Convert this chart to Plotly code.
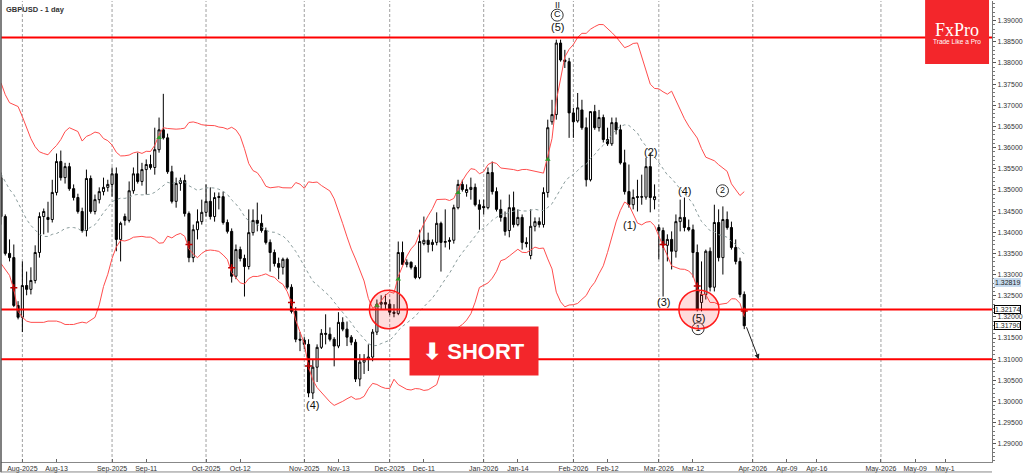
import numpy as np
import pandas as pd
import plotly.graph_objects as go

# ---------------- data ----------------
opens = [1.3529,1.3437,1.3350,1.3340,1.3227,1.3199,1.3274,1.3265,1.3286,1.3352,
         1.3437,1.3435,1.3430,1.3494,1.3567,1.3529,1.3555,1.3503,1.3482,1.3449,
         1.3404,1.3527,1.3449,1.3477,1.3496,1.3506,1.3513,1.3538,1.3383,1.3437,
         1.3428,1.3498,1.3538,1.3520,1.3548,1.3560,1.3553,1.3595,1.3642,1.3623,
         1.3543,1.3473,1.3515,1.3522,1.3444,1.3340,1.3406,1.3425,1.3447,1.3473,
         1.3437,1.3482,1.3484,1.3423,1.3402,1.3296,1.3359,1.3338,1.3319,1.3399,
         1.3428,1.3421,1.3404,1.3376,1.3352,1.3326,1.3317,1.3336,1.3270,1.3213,
         1.3147,1.3145,1.3135,1.3020,1.3081,1.3128,1.3161,1.3159,1.3147,1.3131,
         1.3187,1.3171,1.3152,1.3140,1.3053,1.3093,1.3100,1.3105,1.3164,1.3230,
         1.3234,1.3230,1.3211,1.3208,1.3352,1.3324,1.3329,1.3317,1.3293,1.3373,
         1.3381,1.3371,1.3376,1.3421,1.3376,1.3378,1.3381,1.3458,1.3513,1.3494,
         1.3501,1.3506,1.3465,1.3461,1.3458,1.3541,1.3496,1.3454,1.3435,1.3404,
         1.3458,1.3418,1.3435,1.3376,1.3345,1.3414,1.3425,1.3418,1.3494,1.3661,
         1.3678,1.3847,1.3807,1.3803,1.3682,1.3663,1.3689,1.3647,1.3524,1.3685,
         1.3647,1.3671,1.3619,1.3609,1.3659,1.3642,1.3564,1.3496,1.3465,1.3482,
         1.3484,1.3483,1.3555,1.3477,1.3411,1.3404,1.3369,1.3383,1.3355,1.3425,
         1.3435,1.3411,1.3406,1.3352,1.3234,1.3253,1.3355,1.3270,1.3423,1.3340,
         1.3430,1.3411,1.3364,1.3331,1.3253]
highs = [1.3541,1.3442,1.3383,1.3371,1.3237,1.3331,1.3307,1.3317,1.3369,1.3447,
         1.3456,1.3472,1.3524,1.3586,1.3593,1.3564,1.3564,1.3513,1.3491,1.3458,
         1.3548,1.3534,1.3489,1.3506,1.3529,1.3524,1.3553,1.3553,1.3425,1.3444,
         1.3520,1.3553,1.3588,1.3564,1.3572,1.3583,1.3647,1.3671,1.3727,1.3633,
         1.3557,1.3529,1.3529,1.3536,1.3449,1.3418,1.3454,1.3477,1.3513,1.3506,
         1.3494,1.3494,1.3496,1.3430,1.3409,1.3371,1.3366,1.3347,1.3454,1.3454,
         1.3470,1.3442,1.3411,1.3383,1.3359,1.3340,1.3340,1.3340,1.3277,1.3223,
         1.3164,1.3152,1.3147,1.3100,1.3135,1.3171,1.3206,1.3175,1.3152,1.3211,
         1.3199,1.3189,1.3157,1.3147,1.3112,1.3112,1.3135,1.3171,1.3241,1.3251,
         1.3253,1.3241,1.3230,1.3378,1.3378,1.3336,1.3331,1.3322,1.3406,1.3437,
         1.3399,1.3383,1.3447,1.3425,1.3454,1.3388,1.3465,1.3524,1.3524,1.3513,
         1.3529,1.3515,1.3477,1.3477,1.3553,1.3567,1.3506,1.3477,1.3449,1.3489,
         1.3496,1.3454,1.3442,1.3388,1.3454,1.3435,1.3435,1.3506,1.3666,1.3713,
         1.3855,1.3855,1.3831,1.3812,1.3694,1.3729,1.3713,1.3671,1.3685,1.3701,
         1.3689,1.3678,1.3647,1.3671,1.3671,1.3654,1.3595,1.3560,1.3501,1.3524,
         1.3536,1.3576,1.3588,1.3513,1.3418,1.3411,1.3395,1.3402,1.3442,1.3477,
         1.3482,1.3430,1.3418,1.3371,1.3331,1.3359,1.3364,1.3465,1.3454,1.3461,
         1.3449,1.3425,1.3383,1.3340,1.3260]
lows = [1.3418,1.3345,1.3331,1.3223,1.3194,1.3164,1.3251,1.3253,1.3279,1.3340,
        1.3395,1.3399,1.3423,1.3487,1.3522,1.3515,1.3498,1.3475,1.3444,1.3399,
        1.3390,1.3444,1.3442,1.3468,1.3487,1.3496,1.3484,1.3355,1.3331,1.3416,
        1.3423,1.3491,1.3515,1.3510,1.3489,1.3548,1.3536,1.3588,1.3619,1.3538,
        1.3468,1.3458,1.3498,1.3437,1.3329,1.3329,1.3383,1.3418,1.3437,1.3430,
        1.3425,1.3454,1.3418,1.3397,1.3281,1.3289,1.3331,1.3248,1.3312,1.3392,
        1.3402,1.3399,1.3371,1.3307,1.3319,1.3289,1.3300,1.3265,1.3208,1.3140,
        1.3119,1.3124,1.3010,1.3006,1.3046,1.3124,1.3135,1.3142,1.3083,1.3126,
        1.3166,1.3131,1.3133,1.3046,1.3036,1.3065,1.3072,1.3095,1.3157,1.3218,
        1.3218,1.3204,1.3199,1.3204,1.3322,1.3317,1.3312,1.3289,1.3289,1.3369,
        1.3352,1.3355,1.3369,1.3307,1.3364,1.3359,1.3373,1.3454,1.3496,1.3484,
        1.3477,1.3461,1.3406,1.3442,1.3454,1.3489,1.3449,1.3425,1.3392,1.3388,
        1.3411,1.3414,1.3359,1.3364,1.3336,1.3402,1.3411,1.3411,1.3482,1.3654,
        1.3666,1.3803,1.3788,1.3623,1.3623,1.3659,1.3642,1.3508,1.3520,1.3642,
        1.3638,1.3612,1.3604,1.3604,1.3631,1.3560,1.3489,1.3458,1.3454,1.3449,
        1.3465,1.3477,1.3447,1.3454,1.3336,1.3248,1.3331,1.3312,1.3340,1.3402,
        1.3402,1.3402,1.3293,1.3213,1.3213,1.3241,1.3260,1.3260,1.3331,1.3300,
        1.3406,1.3359,1.3324,1.3246,1.3171]
closes = [1.3437,1.3350,1.3340,1.3227,1.3199,1.3274,1.3265,1.3286,1.3352,1.3437,
          1.3449,1.3430,1.3494,1.3567,1.3529,1.3555,1.3503,1.3482,1.3449,1.3404,
          1.3527,1.3449,1.3477,1.3496,1.3506,1.3513,1.3538,1.3383,1.3421,1.3428,
          1.3498,1.3538,1.3520,1.3548,1.3560,1.3553,1.3595,1.3642,1.3623,1.3543,
          1.3473,1.3515,1.3522,1.3444,1.3340,1.3406,1.3425,1.3447,1.3473,1.3437,
          1.3482,1.3484,1.3423,1.3402,1.3296,1.3359,1.3338,1.3319,1.3399,1.3428,
          1.3421,1.3404,1.3376,1.3352,1.3326,1.3317,1.3336,1.3270,1.3213,1.3147,
          1.3145,1.3135,1.3020,1.3081,1.3128,1.3161,1.3159,1.3147,1.3131,1.3187,
          1.3171,1.3152,1.3140,1.3053,1.3093,1.3100,1.3105,1.3164,1.3230,1.3234,
          1.3230,1.3211,1.3208,1.3352,1.3324,1.3329,1.3317,1.3293,1.3378,1.3381,
          1.3371,1.3376,1.3421,1.3376,1.3378,1.3381,1.3458,1.3513,1.3501,1.3501,
          1.3506,1.3465,1.3454,1.3458,1.3541,1.3496,1.3454,1.3435,1.3402,1.3458,
          1.3418,1.3435,1.3376,1.3373,1.3414,1.3425,1.3418,1.3494,1.3647,1.3678,
          1.3847,1.3807,1.3803,1.3682,1.3661,1.3694,1.3647,1.3524,1.3685,1.3647,
          1.3671,1.3619,1.3609,1.3659,1.3642,1.3564,1.3496,1.3465,1.3482,1.3484,
          1.3483,1.3555,1.3482,1.3484,1.3404,1.3369,1.3383,1.3355,1.3425,1.3435,
          1.3411,1.3406,1.3352,1.3218,1.3253,1.3355,1.3270,1.3423,1.3340,1.3430,
          1.3411,1.3364,1.3331,1.3253,1.3179]

# Bollinger values visible at the left edge (before 20 bars of history exist)
bb_upper_start = [1.3753,1.3725,1.3706,1.3701,1.3697,1.3673,1.3647,1.3621,1.3602,1.3590,
                  1.3586,1.3583,1.3595,1.3605,1.3619,1.3638,1.3647,1.3642,1.3638]
bb_mid_start = [1.3538,1.3520,1.3501,1.3489,1.3470,1.3449,1.3430,1.3416,1.3406,1.3395,
                1.3390,1.3390,1.3395,1.3397,1.3402,1.3409,1.3411,1.3411,1.3409]
bb_lower_start = [1.3326,1.3312,1.3298,1.3265,1.3213,1.3199,1.3190,1.3187,1.3187,1.3187,
                  1.3187,1.3190,1.3190,1.3190,1.3187,1.3182,1.3182,1.3182,1.3185]

tick_labels = ["Aug-2025","Aug-13","Sep-2025","Sep-11","Oct-2025","Oct-12","Nov-2025","Nov-13",
               "Dec-2025","Dec-11","Jan-2026","Jan-14","Feb-2026","Feb-12","Mar-2026","Mar-12",
               "Apr-2026","Apr-09","Apr-16","May-2026","May-09","May-1"]
tick_bars = [5,13,26,34,48,56,71,79,91,99,113,121,134,142,154,162,176,184,191,206,214,221]
month_bars = [5,26,48,71,91,113,134,154,176,206]

levels = [1.3860, 1.32174, 1.3100]

wave_text = ["II","(5)","(4)","(1)","(2)","(3)","(4)","(5)"]
wave_bar = [130.2,130.2,73.0,147.1,152.1,155.0,159.9,163.2]
wave_price = [1.3936,1.3885,1.2991,1.3417,1.3590,1.3235,1.3497,1.3198]
wave_size = [9,11,11,11,11,11,11,11]
circ_text = ["C","1","2"]
circ_bar = [130.2,163.2,168.9]
circ_price = [1.3913,1.3172,1.3498]

cross_bar = [3,44,54,68,72,155,163,174]
cross_price = [1.3269,1.3371,1.3316,1.3234,1.3084,1.3371,1.3273,1.3214]
up_bar = [37,88,93,107,128]
up_price = [1.3623,1.3226,1.3289,1.3493,1.3572]

# ---------------- derived ----------------
idx = np.arange(len(closes))
cs = pd.Series(closes)
mid = cs.rolling(20).mean()
sd = cs.rolling(20).std(ddof=0)
upper = (mid + 2 * sd).to_numpy()
lower = (mid - 2 * sd).to_numpy()
mid = mid.to_numpy()
n0 = len(bb_mid_start)
upper[:n0] = bb_upper_start
mid[:n0] = bb_mid_start
lower[:n0] = bb_lower_start

RED = "#f3262b"
FONT = "Liberation Sans"

fig = go.Figure()
fig.add_trace(go.Scatter(x=idx, y=upper, mode="lines", line=dict(color="#ff4d4d", width=1), hoverinfo="skip"))
fig.add_trace(go.Scatter(x=idx, y=lower, mode="lines", line=dict(color="#ff4d4d", width=1), hoverinfo="skip"))
fig.add_trace(go.Scatter(x=idx, y=mid, mode="lines", line=dict(color="#8a9c9c", width=1, dash="dot"), hoverinfo="skip"))
fig.add_trace(go.Candlestick(
    x=idx, open=opens, high=highs, low=lows, close=closes,
    increasing=dict(line=dict(color="#000000", width=1), fillcolor="#ffffff"),
    decreasing=dict(line=dict(color="#000000", width=1), fillcolor="#000000"),
    whiskerwidth=0))
fig.add_trace(go.Scatter(x=cross_bar, y=cross_price, mode="markers",
                         marker=dict(symbol="cross-thin", size=5, color="#c00000",
                                     line=dict(color="#c00000", width=1.5)), hoverinfo="skip"))
fig.add_trace(go.Scatter(x=up_bar, y=up_price, mode="markers",
                         marker=dict(symbol="triangle-up", size=5, color="#2a9d2a"), hoverinfo="skip"))
fig.add_trace(go.Scatter(x=circ_bar, y=circ_price, mode="markers+text", text=circ_text,
                         textposition="middle center",
                         textfont=dict(family=FONT, size=9, color="#111111"),
                         marker=dict(symbol="circle-open", size=12, color="#333333",
                                     line=dict(color="#333333", width=1)),
                         hoverinfo="skip"))

shapes = []
for b in month_bars:
    shapes.append(dict(type="line", xref="x", yref="paper", x0=b, x1=b, y0=0, y1=1,
                       line=dict(color="#a0a0a0", width=1, dash="3px,2px"), layer="below"))
for lv in levels:
    shapes.append(dict(type="line", xref="paper", yref="y", x0=0, x1=1, y0=lv, y1=lv,
                       line=dict(color="#ff0000", width=2)))
# highlight circles around the retest zones on the 1.32174 level
for cb, rb in [(90.7, 4.45), (163.4, 4.7)]:
    shapes.append(dict(type="circle", xref="x", yref="y", x0=cb - rb, x1=cb + rb,
                       y0=levels[1] - 0.00455, y1=levels[1] + 0.00455,
                       line=dict(color="#ff1a1a", width=1.5), fillcolor="rgba(255,60,60,0.18)"))
# logo box
shapes.append(dict(type="rect", xref="paper", yref="paper", x0=0.9325, x1=0.997, y0=0.8636, y1=1.01,
                   line=dict(width=0), fillcolor=RED))
# frame lines
shapes.append(dict(type="line", xref="paper", yref="paper", x0=0, x1=0, y0=-0.022, y1=1.01,
                   line=dict(color="#555555", width=1.5)))
shapes.append(dict(type="line", xref="paper", yref="paper", x0=0, x1=1.0, y0=-0.0216, y1=-0.0216,
                   line=dict(color="#888888", width=1)))

ann = []
ann.append(dict(xref="paper", yref="paper", x=0, y=1, xanchor="left", yanchor="top", xshift=3, yshift=-2,
                text="<b>GBPUSD - 1 day</b>", showarrow=False, font=dict(family=FONT, size=7.5, color="#333333")))
ann.append(dict(xref="paper", yref="paper", x=0.9648, y=0.938, xanchor="center", yanchor="middle",
                text="FxPro", showarrow=False,
                font=dict(family="Liberation Serif", size=18, color="white")))
ann.append(dict(xref="paper", yref="paper", x=0.9648, y=0.912, xanchor="center", yanchor="middle",
                text="Trade Like a Pro", showarrow=False,
                font=dict(family=FONT, size=6.5, color="white")))
for t, xb, yp, fs in zip(wave_text, wave_bar, wave_price, wave_size):
    ann.append(dict(x=xb, y=yp, text=t, showarrow=False, xanchor="center", yanchor="middle",
                    font=dict(family=FONT, size=fs, color="#111111")))
ann.append(dict(x=110.8, y=1.3119, text="<b>⬇ SHORT</b>", showarrow=False, width=126, height=46,
                bgcolor=RED, font=dict(family=FONT, size=22, color="white"), align="center", valign="middle"))
ann.append(dict(x=177.4, y=1.3100, ax=174.4, ay=closes[-1], axref="x", ayref="y", xref="x", yref="y",
                showarrow=True, arrowhead=2, arrowsize=1, arrowwidth=1, arrowcolor="#222222", text=""))
for val, bg, bc in [(1.32819, "#c6daee", "#c6daee"), (1.32174, "#ffffff", "#000000"), (closes[-1], "#ffffff", "#000000")]:
    ann.append(dict(xref="paper", yref="y", x=1, y=val, xanchor="left", yanchor="middle", xshift=2,
                    text=f"{val:.5f}", showarrow=False, bgcolor=bg, bordercolor=bc, borderwidth=1, borderpad=0,
                    font=dict(family=FONT, size=7, color="#222222")))

fig.update_layout(
    width=1024, height=474, margin=dict(l=1, r=30, t=1, b=11),
    paper_bgcolor="white", plot_bgcolor="white", showlegend=False,
    shapes=shapes, annotations=ann,
    xaxis=dict(range=[0, 232], tickvals=tick_bars, ticktext=tick_labels, ticks="inside", ticklen=3,
               tickcolor="#666666", showline=True, linecolor="#888888", showgrid=False, zeroline=False,
               rangeslider=dict(visible=False), tickfont=dict(family=FONT, size=7, color="#333333")),
    yaxis=dict(side="right", range=[1.2857, 1.39464], tick0=1.29, dtick=0.005, tickformat=".5f",
               ticks="outside", ticklen=3, tickcolor="#555555", showline=True, linecolor="#777777",
               showgrid=False, zeroline=False, tickfont=dict(family=FONT, size=7, color="#333333"),
               minor=dict(dtick=0.001, ticks="outside", ticklen=2, tickcolor="#777777")),
)
fig.write_html("out.html", config={"displayModeBar": False},
               post_script="document.body.style.margin='0';document.body.style.overflow='hidden';")
